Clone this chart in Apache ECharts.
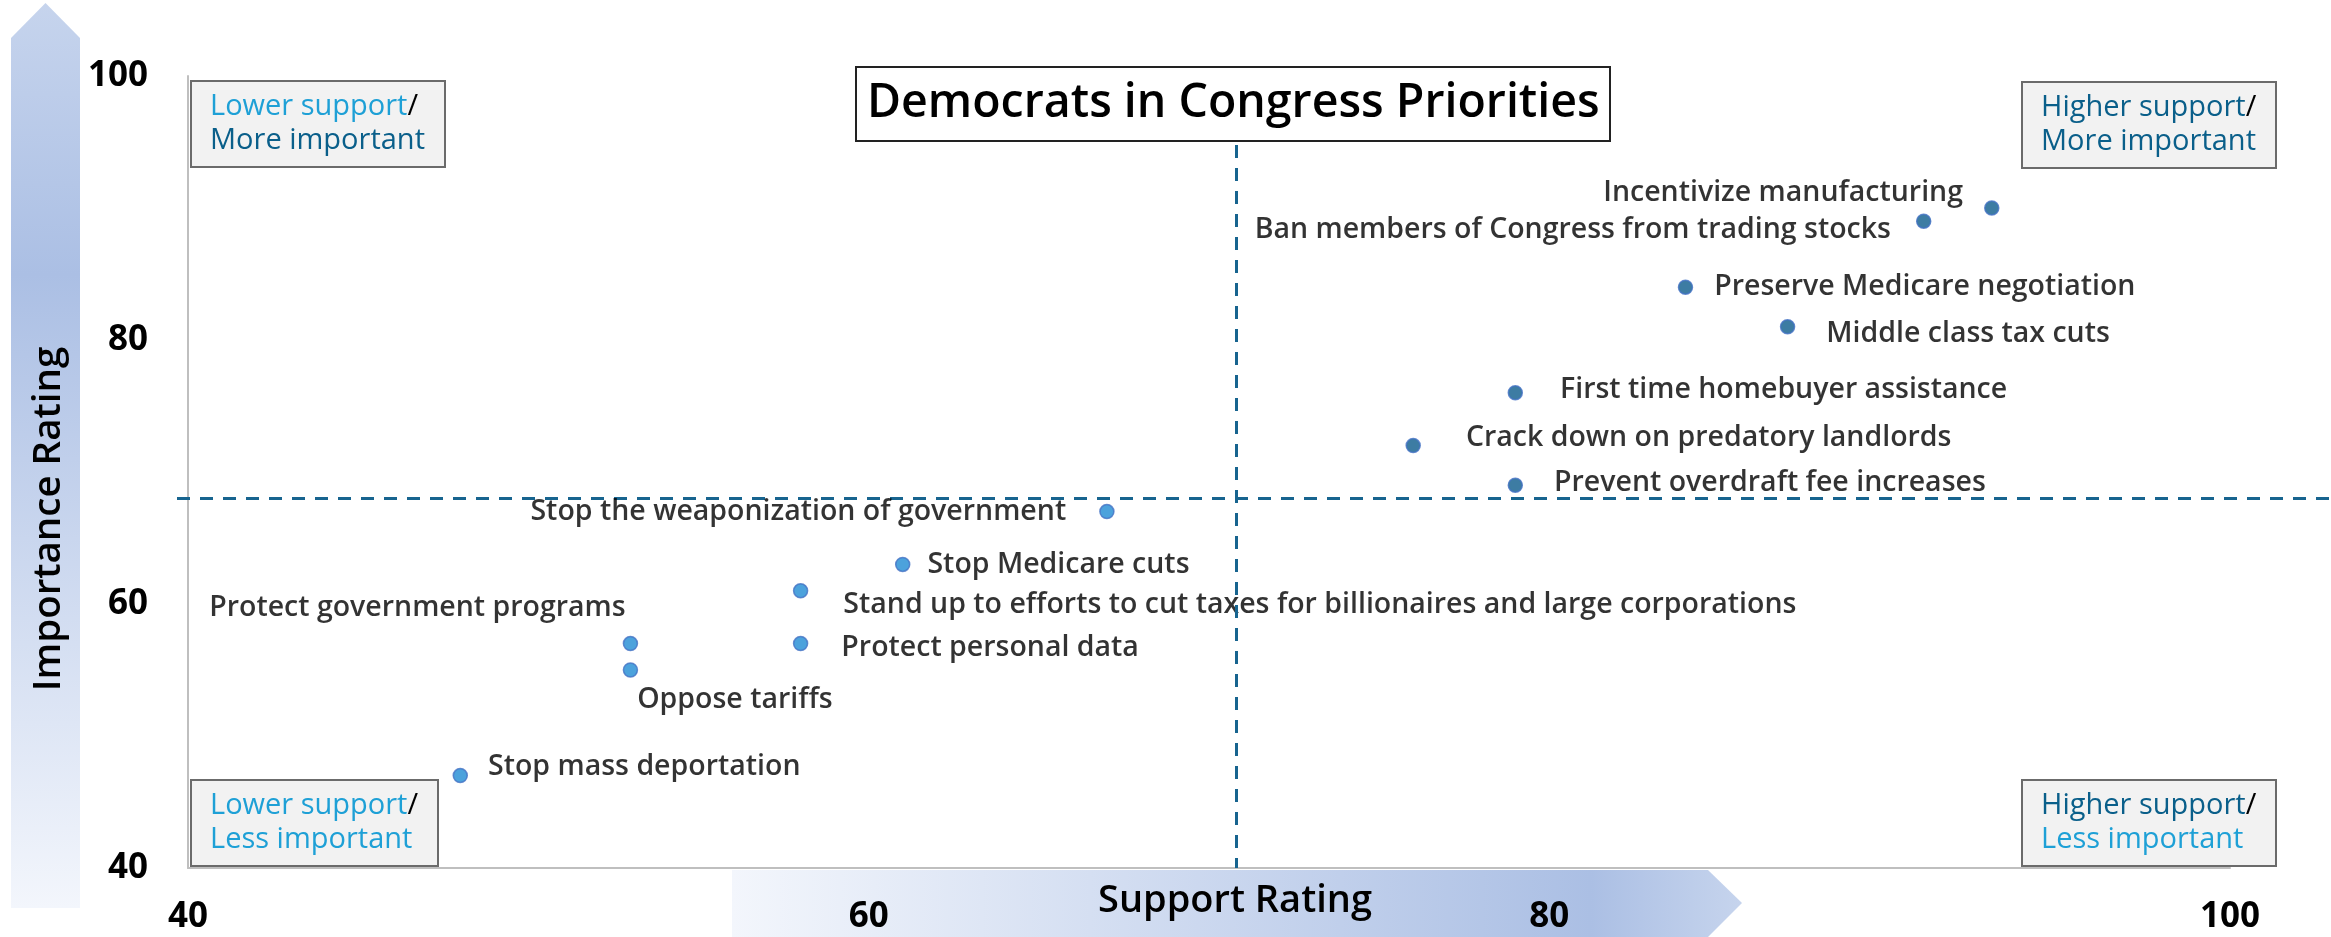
<!DOCTYPE html>
<html>
<head>
<meta charset="utf-8">
<script src="https://cdn.jsdelivr.net/npm/echarts@6/dist/echarts.min.js"></script>
<style>
html,body{margin:0;padding:0;background:#fff;}
#chart{width:2331px;height:937px;}
</style>
</head>
<body>
<div id="chart"></div>
<script>
// ---- data ----
const names = [
  'Incentivize manufacturing',
  'Ban members of Congress from trading stocks',
  'Preserve Medicare negotiation',
  'Middle class tax cuts',
  'First time homebuyer assistance',
  'Crack down on predatory landlords',
  'Prevent overdraft fee increases',
  'Stop the weaponization of government',
  'Stop Medicare cuts',
  'Stand up to efforts to cut taxes for billionaires and large corporations',
  'Protect personal data',
  'Protect government programs',
  'Oppose tariffs',
  'Stop mass deportation'
];
const support = [93, 91, 84, 87, 79, 76, 79, 67, 61, 58, 58, 53, 53, 48];
const importance = [90, 89, 84, 81, 76, 72, 69, 67, 63, 61, 57, 57, 55, 47];
const supportThreshold = 70.8;
const importanceThreshold = 68;
const xTicks = [40, 60, 80, 100];
const yTicks = [40, 60, 80, 100];

// ---- label placement (style only) ----
const labelPlacement = [
  {position: 'left', distance: 21, offset: [0, -15]},
  {position: 'left', distance: 25, offset: [0, 9]},
  {position: 'right', distance: 21, offset: [0, 0]},
  {position: 'right', distance: 31, offset: [0, 7]},
  {position: 'right', distance: 37, offset: [0, -3]},
  {position: 'right', distance: 45, offset: [0, -8]},
  {position: 'right', distance: 31, offset: [0, -2]},
  {position: 'left', distance: 33, offset: [0, 0]},
  {position: 'right', distance: 17, offset: [0, 0]},
  {position: 'right', distance: 35, offset: [0, 14]},
  {position: 'right', distance: 33, offset: [0, 4]},
  {position: 'left', distance: 0, offset: [3, -36]},
  {position: 'right', distance: 0, offset: [-1, 30]},
  {position: 'right', distance: 20, offset: [0, -9]}
];

const FONT = '"Open Sans"';
const DARK = '#0d5b8c';
const LIGHT = '#1f8bd3';
const TXT_LIGHT = '#1ea0d6';
const TXT_DARK = '#0a5f8a';
const LINE_COLOR = '#17648f';

const points = names.map((n, i) => {
  const hi = support[i] > supportThreshold && importance[i] > importanceThreshold;
  return {
    name: n,
    value: [support[i], importance[i]],
    itemStyle: {color: hi ? DARK : LIGHT},
    label: Object.assign({show: true, formatter: '{b}'}, labelPlacement[i])
  };
});

function quadBox(left, top, first, firstColor, second, secondColor) {
  const base = {fontFamily: FONT, fontSize: 29, lineHeight: 34, fontWeight: 500};
  return {
    left: left, top: top,
    text: '{a|' + first + '}{s|/}\n{b|' + second + '}',
    backgroundColor: '#f2f2f2',
    borderColor: '#6b6b6b',
    borderWidth: 2,
    padding: [12, 20, 12, 19],
    textStyle: {
      rich: {
        a: Object.assign({color: firstColor}, base),
        s: Object.assign({color: '#000'}, base),
        b: Object.assign({color: secondColor}, base)
      }
    },
    z: 5
  };
}

const chart = echarts.init(document.getElementById('chart'), null, {renderer: 'canvas'});
chart.setOption({
  backgroundColor: '#fff',
  animation: false,
  title: [
    {
      text: 'Democrats in Congress Priorities',
      left: 856, top: 67,
      backgroundColor: '#fff',
      borderColor: '#222',
      borderWidth: 2,
      padding: [10, 11, 10, 11],
      textStyle: {fontFamily: FONT, fontSize: 46.5, lineHeight: 54, fontWeight: 600, color: '#000'},
      z: 10
    },
    quadBox(191, 78, 'Lower support', TXT_LIGHT, 'More important', TXT_DARK),
    quadBox(2022, 79, 'Higher support', TXT_DARK, 'More important', TXT_DARK),
    quadBox(191, 777, 'Lower support', TXT_LIGHT, 'Less important', TXT_LIGHT),
    quadBox(2022, 777, 'Higher support', TXT_DARK, 'Less important', TXT_LIGHT)
  ],
  graphic: [
    {
      type: 'polygon', z: -10, silent: true,
      shape: {points: [[11, 38], [45.5, 3], [80, 38], [80, 908], [11, 908]]},
      style: {fill: new echarts.graphic.LinearGradient(0, 0, 0, 1, [
        {offset: 0, color: '#c6d4ed'}, {offset: 0.3, color: '#abbfe4'}, {offset: 1, color: '#f3f6fc'}
      ])}
    },
    {
      type: 'polygon', z: -10, silent: true,
      shape: {points: [[732, 870], [1708, 870], [1742, 903], [1708, 937], [732, 937]]},
      style: {fill: new echarts.graphic.LinearGradient(0, 0, 1, 0, [
        {offset: 0, color: '#f3f6fc'}, {offset: 0.85, color: '#abbfe4'}, {offset: 1, color: '#c6d4ed'}
      ])}
    }
  ],
  grid: [
    {left: 188, right: 101, top: 76, bottom: 69, containLabel: false, outerBoundsMode: 'none'},
    {left: 177, right: 0, top: 76, bottom: 69, containLabel: false, outerBoundsMode: 'none', show: false}
  ],
  xAxis: [{
    type: 'value', min: xTicks[0], max: xTicks[xTicks.length - 1], interval: 20,
    name: 'Support Rating', nameLocation: 'middle', nameGap: 14, nameMoveOverlap: false,
    nameTextStyle: {fontFamily: FONT, fontSize: 38, lineHeight: 38, fontWeight: 600, color: '#000', padding: [0, 0, 0, 52], verticalAlign: 'top'},
    axisLine: {show: true, lineStyle: {color: '#bfbfbf', width: 2}},
    axisTick: {show: false},
    splitLine: {show: false},
    axisLabel: {fontFamily: FONT, fontSize: 35, lineHeight: 36, fontWeight: 700, color: '#000', margin: 31}
  }, {
    gridIndex: 1, type: 'value', min: 0, max: 1, show: false
  }],
  yAxis: [{
    type: 'value', min: yTicks[0], max: yTicks[yTicks.length - 1], interval: 20,
    name: 'Importance Rating', nameLocation: 'middle', nameGap: 120, nameRotate: 90, nameMoveOverlap: false,
    nameTextStyle: {fontFamily: FONT, fontSize: 38.5, lineHeight: 38, fontWeight: 600, color: '#000', padding: [0, 94, 0, 0]},
    axisLine: {show: true, lineStyle: {color: '#bfbfbf', width: 2}},
    axisTick: {show: false},
    splitLine: {show: false},
    axisLabel: {fontFamily: FONT, fontSize: 35, fontWeight: 700, color: '#000', margin: 40}
  }, {
    gridIndex: 1, type: 'value', min: yTicks[0], max: yTicks[yTicks.length - 1], show: false
  }],
  series: [{
    type: 'scatter',
    symbolSize: 14,
    clip: false,
    itemStyle: {borderColor: '#4472c4', borderWidth: 1.5},
    label: {fontFamily: FONT, fontSize: 28.5, fontWeight: 600, color: '#000'},
    data: points,
    markLine: {
      silent: true,
      symbol: 'none',
      label: {show: false},
      lineStyle: {color: LINE_COLOR, type: [13, 10], width: 3},
      data: [
        [{coord: [supportThreshold, 100]}, {coord: [supportThreshold, 40]}]
      ]
    },
    z: 3
  }, {
    type: 'line',
    xAxisIndex: 1, yAxisIndex: 1,
    silent: true,
    symbol: 'none',
    lineStyle: {color: LINE_COLOR, type: [13, 10], width: 3},
    data: [[0, importanceThreshold], [1, importanceThreshold]],
    z: 2
  }]
});
</script>
</body>
</html>
